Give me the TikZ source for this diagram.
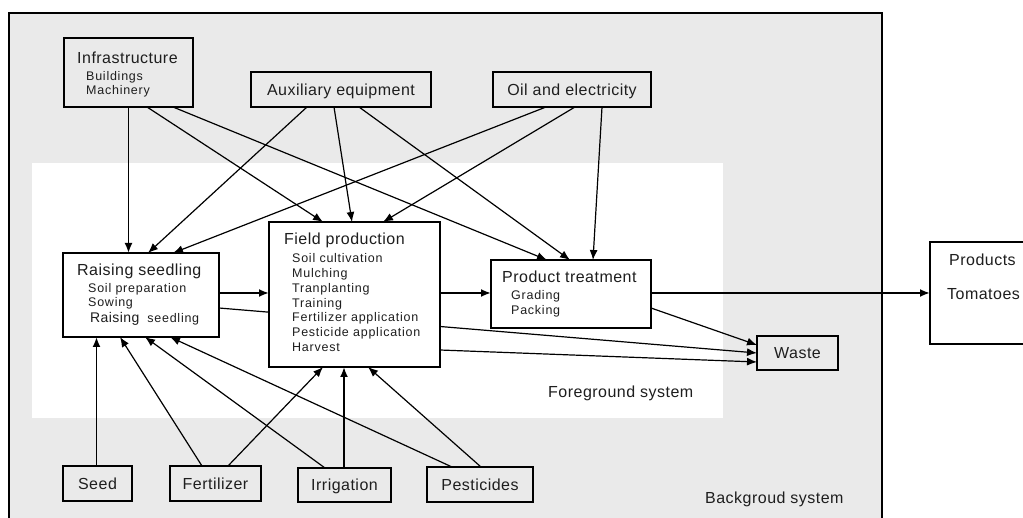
\documentclass[tikz,border=0pt]{standalone}
\usepackage{fontspec}
\setmainfont{Liberation Sans}
\newfontfamily\ttlfont[LetterSpace=3]{Liberation Sans}
\newfontfamily\subfont[LetterSpace=6]{Liberation Sans}
\usetikzlibrary{arrows.meta}
\pgfdeclarelayer{bg}
\pgfdeclarelayer{lines}
\pgfsetlayers{bg,lines,main}
\definecolor{bggray}{RGB}{234,234,234}
\definecolor{txt}{RGB}{30,30,30}
\begin{document}
\begin{tikzpicture}[x=1pt,y=-1pt,
  box/.style={draw=black,line width=1.8pt,inner sep=0pt,outer sep=0pt},
  gbox/.style={box,fill=bggray},
  wbox/.style={box,fill=white},
  lbl/.style={font=\ttlfont\fontsize{16}{19}\selectfont,text=txt,text height=11.5pt,text depth=0pt},
  ttl/.style={anchor=base west,inner sep=0pt,font=\ttlfont\fontsize{16}{19}\selectfont,text=txt},
  sub/.style={anchor=base west,inner sep=0pt,font=\subfont\fontsize{12.5}{15}\selectfont,text=txt},
  conn/.style={line width=1.2pt,-{Latex[length=10pt,width=8pt]}},
  thickconn/.style={conn,line width=1.9pt},
]
\useasboundingbox (0,0) rectangle (1023,518);
\begin{pgfonlayer}{bg}
  \fill[white] (0,0) rectangle (1023,518);
  \fill[bggray] (9,13) rectangle (882,530);
  \draw[line width=1.8pt] (9,530) -- (9,13) -- (882,13) -- (882,530);
  \fill[white] (32,163) rectangle (723,418);
\end{pgfonlayer}

% boxes
\node[gbox,minimum width=129pt,minimum height=69pt] (infra) at (128.5,72.5) {};
\node[gbox,lbl,minimum width=180pt,minimum height=35pt] (aux) at (341,89.5) {Auxiliary equipment};
\node[gbox,lbl,minimum width=158pt,minimum height=35pt] (oil) at (572,89.5) {Oil and electricity};
\node[wbox,minimum width=156pt,minimum height=84pt] (raise) at (141,295) {};
\node[wbox,minimum width=171pt,minimum height=145pt] (field) at (354.5,294.5) {};
\node[wbox,minimum width=160pt,minimum height=68pt] (prod) at (571,294) {};
\node[wbox,minimum width=120pt,minimum height=102pt] (products) at (990,293) {};
\node[gbox,lbl,minimum width=81pt,minimum height=34pt] (waste) at (797.5,353) {Waste};
\node[gbox,lbl,minimum width=69pt,minimum height=35pt] (seed) at (97.5,483.5) {Seed};
\node[gbox,lbl,minimum width=91pt,minimum height=35pt] (fert) at (215.5,483.5) {Fertilizer};
\node[gbox,lbl,minimum width=93pt,minimum height=34pt] (irr) at (344.5,485) {Irrigation};
\node[gbox,lbl,minimum width=106pt,minimum height=35pt] (pest) at (480,484.5) {Pesticides};

% texts inside boxes
\node[ttl] (infraT) at (77,63.3) {Infrastructure};
\node[sub] (infra1) at (86,81) {Buildings};
\node[sub] (infra2) at (86,95) {Machinery};

\node[ttl] (raiseT) at (77,276) {Raising seedling};
\node[sub] (raise1) at (88,293) {Soil preparation};
\node[sub] (raise2) at (88,307) {Sowing};
\node[anchor=base west,inner sep=0pt,text=txt] (raise3) at (90,323)
  {{\ttlfont\fontsize{14}{16}\selectfont Raising}\hspace{8pt}{\subfont\fontsize{12.5}{15}\selectfont seedling}};

\node[ttl] (fieldT) at (284,245) {Field production};
\node[sub] (field1) at (292,263) {Soil cultivation};
\node[sub] (field2) at (292,277.7) {Mulching};
\node[sub] (field3) at (292,292.4) {Tranplanting};
\node[sub] (field4) at (292,307.1) {Training};
\node[sub] (field5) at (292,321.8) {Fertilizer application};
\node[sub] (field6) at (292,336.5) {Pesticide application};
\node[sub] (field7) at (292,351.2) {Harvest};

\node[ttl] (prodT) at (502,283) {Product treatment};
\node[sub] (prod1) at (511,300) {Grading};
\node[sub] (prod2) at (511,315) {Packing};

\node[ttl] (productsT) at (949,266) {Products};
\node[ttl] (products1) at (947,300) {Tomatoes};

\node[ttl] (fg) at (548,398) {Foreground system};
\node[ttl] (bgl) at (705,503) {Backgroud system};

% connectors
\begin{pgfonlayer}{lines}
  % from infrastructure
  \draw[thickconn] (infra.south -| 128.5,0) -- (raise.north -| 128.5,0);
  \draw[conn] (infra.south -| 147,0) -- (field.north -| 323,0);
  \draw[conn] (infra.south -| 173,0) -- (prod.north -| 547,0);
  % from auxiliary equipment
  \draw[conn] (aux.south -| 307,0) -- (raise.north -| 148,0);
  \draw[conn] (aux.south -| 334,0) -- (field.north -| 352,0);
  \draw[conn] (aux.south -| 359,0) -- (prod.north -| 570,0);
  % from oil and electricity
  \draw[conn] (oil.south -| 546,0) -- (raise.north -| 173,0);
  \draw[conn] (oil.south -| 575,0) -- (field.north -| 383,0);
  \draw[conn] (oil.south -| 602,0) -- (prod.north -| 593,0);
  % main flow
  \draw[thickconn] (raise.east |- 0,293) -- (field.west |- 0,293);
  \draw[thickconn] (field.east |- 0,293) -- (prod.west |- 0,293);
  \draw[thickconn] (prod.east |- 0,293) -- (products.west |- 0,293);
  % to waste
  \draw[conn] (prod.east |- 0,308) -- (waste.west |- 0,345);
  \draw[conn] (raise.east |- 0,308) -- (waste.west |- 0,353);
  \draw[conn] (field.east |- 0,350) -- (waste.west |- 0,362);
  % from bottom inputs
  \draw[thickconn] (seed.north -| 96.5,0) -- (raise.south -| 96.5,0);
  \draw[conn] (fert.north -| 202,0) -- (raise.south -| 120,0);
  \draw[conn] (fert.north -| 228,0) -- (field.south -| 323,0);
  \draw[conn] (irr.north -| 325,0) -- (raise.south -| 145,0);
  \draw[thickconn] (irr.north -| 344,0) -- (field.south -| 344,0);
  \draw[conn] (pest.north -| 452,0) -- (raise.south -| 170,0);
  \draw[conn] (pest.north -| 481,0) -- (field.south -| 368,0);
\end{pgfonlayer}
\end{tikzpicture}
\end{document}
